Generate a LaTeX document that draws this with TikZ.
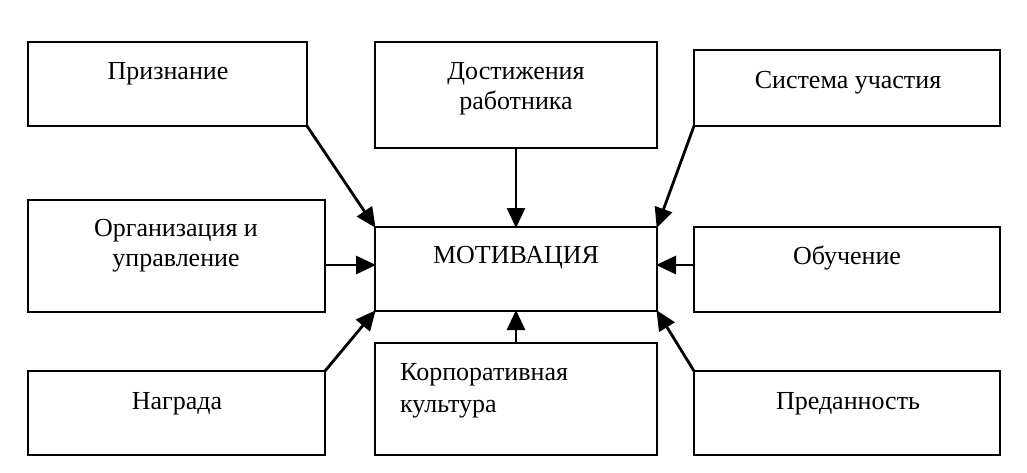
\documentclass[tikz,border=0pt]{standalone}
\usepackage{fontspec}
\setmainfont{Liberation Serif}
\usetikzlibrary{arrows.meta}
\begin{document}
\begin{tikzpicture}[x=1pt,y=-1pt,
  box/.style={draw=black, line width=2.7pt, rectangle, inner sep=0pt, outer sep=0pt},
  txt/.style={font=\fontsize{26}{30}\selectfont, inner sep=0pt, align=center},
  arr/.style={line width=2.8pt, -{Triangle[length=20pt,width=18pt]}, shorten >=-1pt}]
\useasboundingbox (0,0) rectangle (1027,472);
\node[box, minimum width=279pt, minimum height=84pt] (priz) at (167.5,84) {};
\node[box, minimum width=282pt, minimum height=106pt] (dost) at (516,95) {};
\node[box, minimum width=306pt, minimum height=76pt] (sist) at (847,88) {};
\node[box, minimum width=297pt, minimum height=112pt] (org) at (176.5,256) {};
\node[box, minimum width=282pt, minimum height=84pt] (mot) at (516,269) {};
\node[box, minimum width=306pt, minimum height=85pt] (obuch) at (847,269.5) {};
\node[box, minimum width=297pt, minimum height=84pt] (nagr) at (176.5,413) {};
\node[box, minimum width=282pt, minimum height=112pt] (korp) at (516,399) {};
\node[box, minimum width=306pt, minimum height=84pt] (pred) at (847,413) {};

\node[txt] (t1) at (168,74) {Признание};
\node[txt] (t2) at (516,89) {Достижения\\работника};
\node[txt] (t3) at (848,83) {Система участия};
\node[txt] (t4) at (176,246) {Организация и\\управление};
\node[txt] (t5) at (516,258) {МОТИВАЦИЯ};
\node[txt] (t6) at (847,258) {Обучение};
\node[txt] (t7) at (177,404) {Награда};
\node[txt, align=left, anchor=west, font=\fontsize{26}{32}\selectfont] (t8) at (400,391) {Корпоративная\\культура};
\node[txt] (t9) at (848,404) {Преданность};

\draw[arr] (priz.south east) -- (mot.north west);
\draw[arr] (dost.south) -- (mot.north);
\draw[arr] (sist.south west) -- (mot.north east);
\draw[arr] (org.east |- 0,265) -- (mot.west |- 0,265);
\draw[arr] (obuch.west |- 0,265) -- (mot.east |- 0,265);
\draw[arr] (nagr.north east) -- (mot.south west);
\draw[arr] (korp.north) -- (mot.south);
\draw[arr] (pred.north west) -- (mot.south east);
\end{tikzpicture}
\end{document}
